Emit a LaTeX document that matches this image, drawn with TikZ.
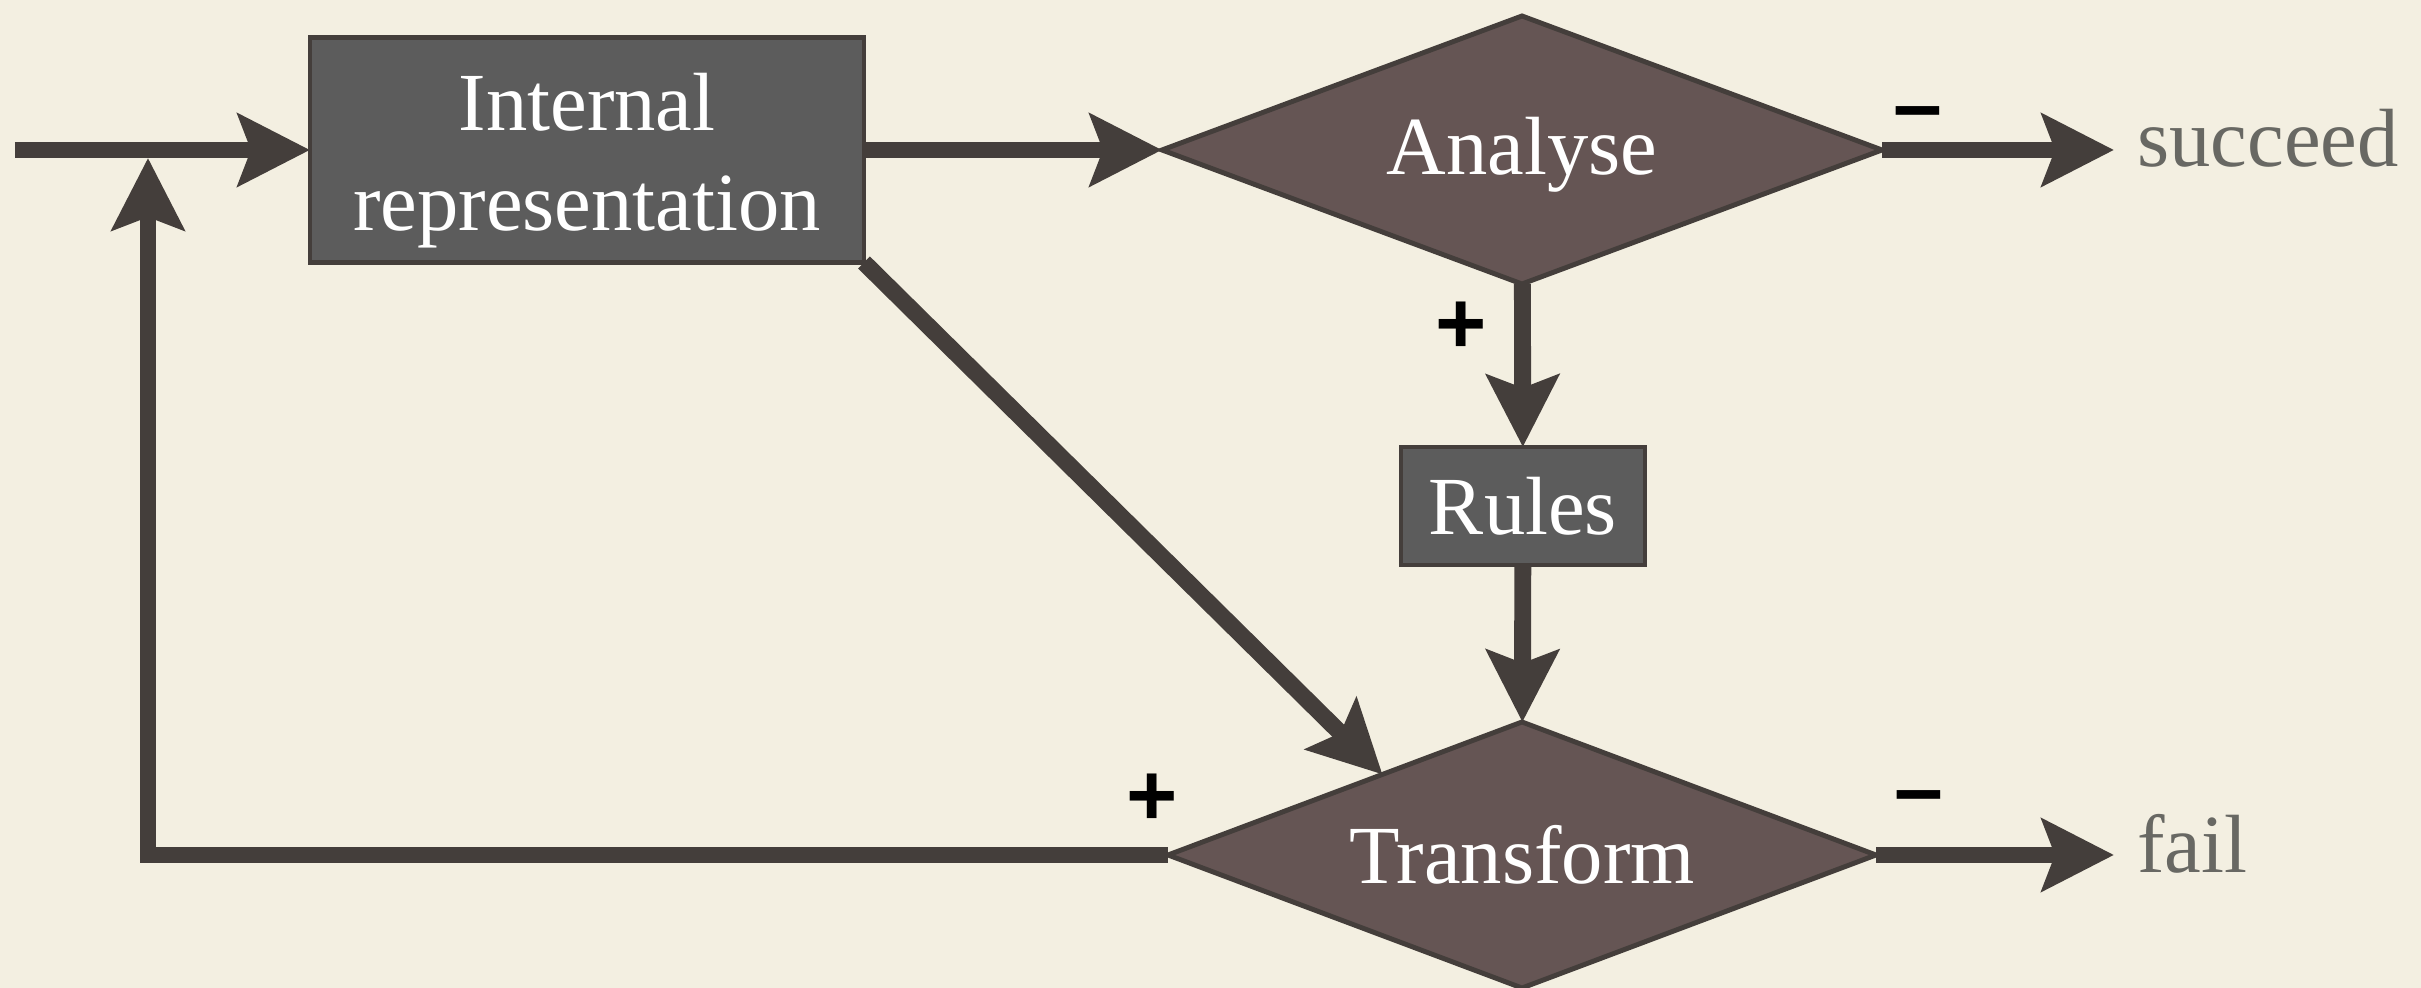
\documentclass[tikz,border=0pt]{standalone}
\usepackage{fontspec}
\setmainfont{Liberation Serif}
\newfontfamily\signfont{Liberation Sans}
\usetikzlibrary{shapes.geometric,arrows.meta,positioning}
\definecolor{pmbg}{RGB}{243,239,225}
\definecolor{pmline}{RGB}{68,62,59}
\definecolor{pmbox}{RGB}{92,92,92}
\definecolor{pmdiam}{RGB}{101,85,84}
\definecolor{pmgrey}{RGB}{104,104,99}

\begin{document}
\begin{tikzpicture}[line width=4.8pt,
  >={Stealth[length=7.2mm,width=7.2mm,inset=1.3mm]},
  flow/.style={draw=pmline,->},
  box/.style={rectangle,draw=pmline,line width=1.4pt,fill=pmbox,text=white,
    font=\fontsize{23.5}{28.4}\selectfont,inner sep=0pt,outer sep=0pt},
  test/.style={diamond,draw=pmline,line width=1.4pt,fill=pmdiam,text=white,
    font=\fontsize{23.5}{28.4}\selectfont,aspect=2.7,inner sep=0pt,outer sep=0pt},
  outcome/.style={text=pmgrey,font=\fontsize{23.5}{28.4}\selectfont,
    anchor=base west,inner xsep=0.15cm,inner ysep=0pt},
  sign/.style={font=\signfont\bfseries\fontsize{25}{30}\selectfont,inner sep=0pt}]
  \fill[pmbg] (0,0) rectangle (24.21,9.88);
  \useasboundingbox (0,0) rectangle (24.21,9.88);
  \coordinate (in) at (0.15,8.38);
  \coordinate (fb) at (1.48,8.30);
  \node[box,minimum width=5.54cm,minimum height=2.25cm] (int) at (5.87,8.38)
    {\raisebox{-2.9pt}[\height][\depth]{\begin{tabular}{@{}c@{}}Internal\\representation\end{tabular}}};
  \node[test,minimum width=7.2cm,minimum height=2.68cm,text depth=2.2pt] (ana) at (15.22,8.38) {Analyse};
  \node[box,minimum width=2.44cm,minimum height=1.18cm] (rules) at (15.23,4.82) {Rules};
  \node[test,minimum width=7.08cm,minimum height=2.66cm] (trans) at (15.22,1.33) {Transform};
  \node[outcome] (succ) at (21.14,8.21) {succeed};
  \node[outcome] (fail) at (21.14,1.15) {fail};
  \draw[flow] (in) -- (int);
  \draw[flow] (int) -- (ana);
  \draw[flow] (ana) -- (rules);
  \draw[flow] (rules) -- (trans);
  \draw[flow] (int.south east) -- (trans.150);
  \draw[flow] (ana) -- (ana -| succ.west);
  \draw[flow] (trans) -- (trans -| fail.west);
  \draw[flow] (trans) -| (fb);
  \node[sign] (plusa) at (14.61,6.60) {+};
  \node[sign] (plust) at (11.52,1.88) {+};
  \node[sign] (minusa) at (19.18,8.67) {–};
  \node[sign] (minust) at (19.19,1.83) {–};
\end{tikzpicture}
\end{document}
